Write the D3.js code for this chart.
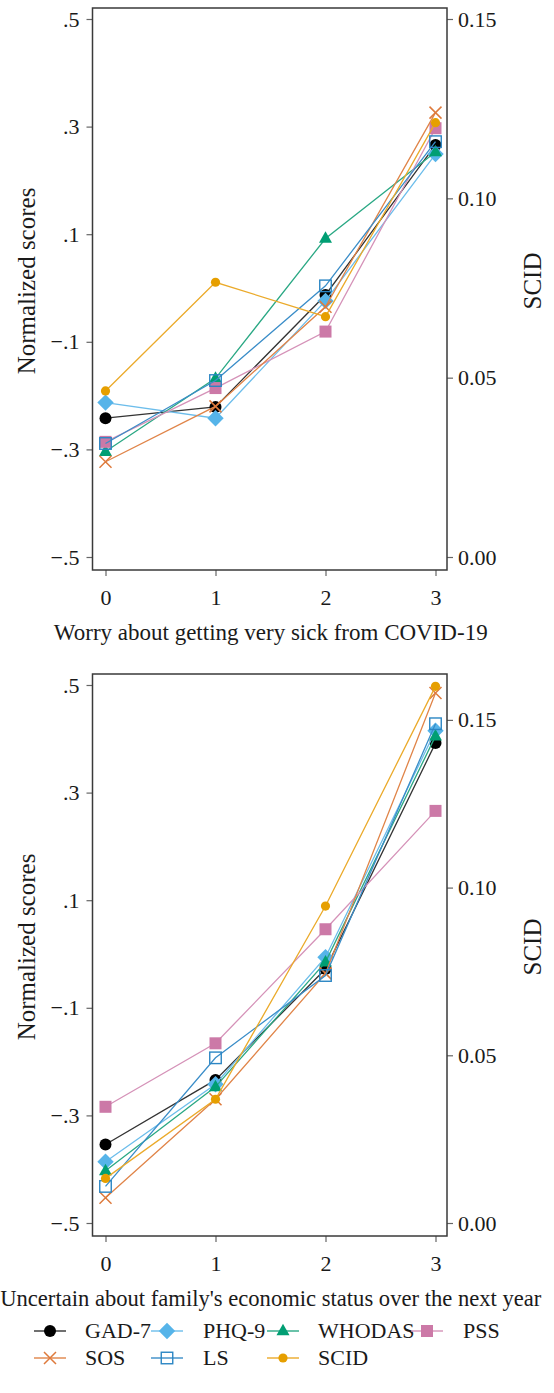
<!DOCTYPE html>
<html><head><meta charset="utf-8">
<script src="https://cdn.jsdelivr.net/npm/d3@7"></script>
<style>
body{margin:0;background:#fff;}
svg{display:block;}
</style>
</head><body>
<svg id="chart" width="554" height="1393"></svg>
<script>
// ---------- data ----------
const xValues = [0, 1, 2, 3];
const seriesNames = ["GAD-7", "PHQ-9", "WHODAS", "PSS", "SOS", "LS", "SCID"];
const leftTicks = [-0.5, -0.3, -0.1, 0.1, 0.3, 0.5];
const rightTicks = [0, 0.05, 0.10, 0.15];
const worryTitle = "Worry about getting very sick from COVID-19";
const econTitle = "Uncertain about family's economic status over the next year";
const leftAxisTitle = "Normalized scores";
const rightAxisTitle = "SCID";

// Panel 1: worry about getting very sick (normalized scores, SCID on right axis)
const worryGAD7   = [-0.242, -0.221, -0.013, 0.266];
const worryPHQ9   = [-0.213, -0.242, -0.024, 0.249];
const worryWHODAS = [-0.304, -0.168,  0.092, 0.253];
const worryPSS    = [-0.286, -0.186, -0.081, 0.297];
const worrySOS    = [-0.323, -0.220, -0.035, 0.326];
const worryLS     = [-0.289, -0.172,  0.004, 0.272];
const worrySCID   = [0.0463, 0.0766, 0.0670, 0.1211];
const worrySCIDMax = 0.15;

// Panel 2: uncertain about family's economic status
const econGAD7   = [-0.354, -0.234, -0.028, 0.392];
const econPHQ9   = [-0.386, -0.242, -0.006, 0.415];
const econWHODAS = [-0.403, -0.247, -0.015, 0.405];
const econPSS    = [-0.284, -0.166,  0.046, 0.266];
const econSOS    = [-0.453, -0.270, -0.036, 0.485];
const econLS     = [-0.432, -0.193, -0.040, 0.428];
const econSCID   = [0.0133, 0.0369, 0.0945, 0.1600];
const econSCIDMax = 0.1604;

// ---------- styles ----------
const FONT = "'Liberation Serif', Tinos, 'Times New Roman', Times, 'DejaVu Serif', serif";
const colors = {"GAD-7":"#000000","PHQ-9":"#56B4E9","WHODAS":"#009E73","PSS":"#CC79A7","SOS":"#DE7A3C","LS":"#2B86C4","SCID":"#E69F00"};
const lineColors = {"GAD-7":"#333333","PHQ-9":"#6CBDEB","WHODAS":"#2AA884","PSS":"#D592B8","SOS":"#E08448","LS":"#3A8DC8","SCID":"#EBAA2A"};
const shapes = {"GAD-7":"circle","PHQ-9":"diamond","WHODAS":"triangle","PSS":"square","SOS":"x","LS":"hsquare","SCID":"smallcircle"};

const svg = d3.select("#chart");
const L = 92.5, R = 447;

function txt(g) {
  return g.append("text").attr("font-family", FONT).attr("fill", "#1a1a1a");
}

function drawMarker(g, shape, color, x, y) {
  if (shape === "circle") {
    g.append("circle").attr("cx", x).attr("cy", y).attr("r", 6).attr("fill", color);
  } else if (shape === "smallcircle") {
    g.append("circle").attr("cx", x).attr("cy", y).attr("r", 4.6).attr("fill", color);
  } else if (shape === "diamond") {
    const s = 8.2;
    g.append("path").attr("d", `M${x},${y-s}L${x+s},${y}L${x},${y+s}L${x-s},${y}Z`).attr("fill", color);
  } else if (shape === "triangle") {
    const h = 11.5, w = 13;
    g.append("path").attr("d", `M${x},${y-h*0.62}L${x+w/2},${y+h*0.38}L${x-w/2},${y+h*0.38}Z`).attr("fill", color);
  } else if (shape === "square") {
    const s = 12;
    g.append("rect").attr("x", x-s/2).attr("y", y-s/2).attr("width", s).attr("height", s).attr("fill", color);
  } else if (shape === "hsquare") {
    const s = 11.5;
    g.append("rect").attr("x", x-s/2).attr("y", y-s/2).attr("width", s).attr("height", s)
      .attr("fill", "none").attr("stroke", color).attr("stroke-width", 1.4);
  } else if (shape === "x") {
    const s = 6;
    g.append("path").attr("d", `M${x-s},${y-s}L${x+s},${y+s}M${x-s},${y+s}L${x+s},${y-s}`)
      .attr("stroke", color).attr("stroke-width", 1.5).attr("fill", "none");
  }
}

function drawPanel(top, bottom, series, scidMax, title, titleSize) {
  const g = svg.append("g");
  const x = d3.scaleLinear().domain([0, 3]).range([105.5, 435.5]);
  const yL = d3.scaleLinear().domain([-0.5, 0.5]).range([bottom - 13, top + 11]);
  const yR = d3.scaleLinear().domain([0, scidMax]).range([bottom - 13, top + 11]);

  const leftAxis = d3.axisLeft(yL).tickValues(leftTicks).tickSize(6).tickPadding(7)
    .tickFormat(d => d3.format(".1f")(d).replace("0.", "."));
  const rightAxis = d3.axisRight(yR).tickValues(rightTicks).tickSize(6).tickPadding(5)
    .tickFormat(d3.format(".2f"));
  const bottomAxis = d3.axisBottom(x).tickValues(xValues).tickSize(6).tickPadding(13)
    .tickFormat(d3.format("d"));

  const styleAxis = a => {
    a.attr("font-family", FONT).attr("font-size", 22);
    a.select(".domain").remove();
    a.selectAll(".tick line").attr("stroke", "#666").attr("stroke-width", 1.2);
    a.selectAll(".tick text").attr("fill", "#1a1a1a");
  };
  g.append("g").attr("transform", `translate(${L},0)`).call(leftAxis).call(styleAxis);
  g.append("g").attr("transform", `translate(${R},0)`).call(rightAxis).call(styleAxis);
  g.append("g").attr("transform", `translate(0,${bottom})`).call(bottomAxis).call(styleAxis);

  g.append("rect").attr("x", L).attr("y", top).attr("width", R - L).attr("height", bottom - top)
    .attr("fill", "none").attr("stroke", "#3a3a3a").attr("stroke-width", 1.5);

  series.forEach(s => {
    const yy = s.name === "SCID" ? yR : yL;
    const line = d3.line().x((d, i) => x(xValues[i])).y(d => yy(d));
    g.append("path").datum(s.values).attr("d", line).attr("fill", "none")
      .attr("stroke", lineColors[s.name]).attr("stroke-width", 1.3);
    s.values.forEach((v, i) => drawMarker(g, shapes[s.name], colors[s.name], x(xValues[i]), yy(v)));
  });

  const mid = (top + bottom) / 2 - 8;
  txt(g).attr("transform", `translate(35,${mid}) rotate(-90)`).attr("text-anchor", "middle")
    .attr("font-size", 25).text(leftAxisTitle);
  txt(g).attr("transform", `translate(541,${mid}) rotate(-90)`).attr("text-anchor", "middle")
    .attr("font-size", 25).text(rightAxisTitle);
  txt(g).attr("x", Math.min((L + R) / 2 + 1, 277)).attr("y", bottom + 70).attr("text-anchor", "middle")
    .attr("font-size", titleSize).text(title);
}

drawPanel(8, 570, [
  {name: "GAD-7", values: worryGAD7}, {name: "PHQ-9", values: worryPHQ9},
  {name: "WHODAS", values: worryWHODAS}, {name: "PSS", values: worryPSS},
  {name: "SOS", values: worrySOS}, {name: "LS", values: worryLS},
  {name: "SCID", values: worrySCID}], worrySCIDMax, worryTitle, 23);

drawPanel(674, 1236, [
  {name: "GAD-7", values: econGAD7}, {name: "PHQ-9", values: econPHQ9},
  {name: "WHODAS", values: econWHODAS}, {name: "PSS", values: econPSS},
  {name: "SOS", values: econSOS}, {name: "LS", values: econLS},
  {name: "SCID", values: econSCID}], econSCIDMax, econTitle, 22.6);

// legend
const legCols = [[34, 85], [151, 203], [267, 318], [411, 463]];
const legRows = [1331, 1358];
const lg = svg.append("g");
seriesNames.forEach((name, i) => {
  const row = Math.floor(i / 4), col = i % 4;
  const [kx, tx] = legCols[col];
  const y = legRows[row];
  lg.append("line").attr("x1", kx).attr("x2", kx + 32).attr("y1", y).attr("y2", y)
    .attr("stroke", lineColors[name]).attr("stroke-width", 1.4);
  drawMarker(lg, shapes[name], colors[name], kx + 16, y);
  txt(lg).attr("x", tx).attr("y", y + 7).attr("font-size", 22).text(name);
});
</script>
</body></html>
